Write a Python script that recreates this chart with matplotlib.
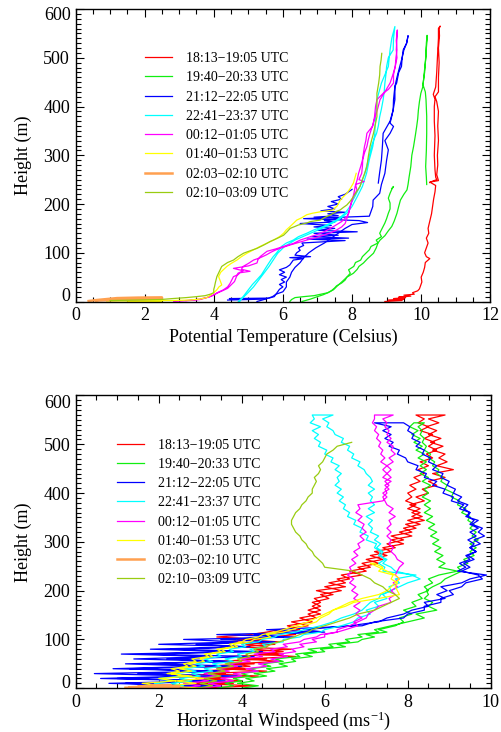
import matplotlib
matplotlib.use('Agg')
import matplotlib.pyplot as plt
from matplotlib.ticker import MultipleLocator

plt.rcParams['font.family'] = ['Liberation Serif', 'DejaVu Serif']
plt.rcParams['mathtext.fontset'] = 'custom'
plt.rcParams['mathtext.rm'] = 'Liberation Serif'
plt.rcParams['mathtext.it'] = 'Liberation Serif:italic'

LABELS = ['18:13\u221219:05 UTC', '19:40\u221220:33 UTC', '21:12\u221222:05 UTC',
          '22:41\u221223:37 UTC', '00:12\u221201:05 UTC', '01:40\u221201:53 UTC',
          '02:03\u221202:10 UTC', '02:10\u221203:09 UTC']
COLORS = ['#ff0000', '#11ee11', '#0000ff', '#00ffff', '#ff00ff', '#ffff00', '#ffa050', '#99cc11']

# ---------------- Top panel: potential temperature (Celsius) vs height (m)
T_RED_H = [0,2,3,5,6,8,9,11,13,15, 18,22,26,32,40,50,60,70,80,88, 92,100,110,120,130,140,150,165,180,195,
           210,225,238,245,248,260,280,300,330,360, 390,410,420,430,460,490,520,545,560,565,
           560,540,500,470,440,425,415,400,370,340, 300,270,255,250,246,244]
T_RED_X = [8.95,9.45,9.05,9.5,9.2,9.55,9.35,9.7,9.5,9.8, 9.75,9.9,9.95,9.98,10.02,10.0,10.06,10.1,10.12,10.25,
           10.15,10.1,10.15,10.2,10.15,10.22,10.2,10.25,10.3,10.33, 10.36,10.4,10.42,10.25,10.5,10.45,10.48,10.47,10.5,10.48,
           10.5,10.45,10.4,10.5,10.5,10.52,10.5,10.53,10.52,10.55,
           10.5,10.5,10.47,10.45,10.42,10.35,10.4,10.38,10.38,10.4, 10.38,10.4,10.42,10.45,10.3,10.25]

T_GRN1_H = [0,4,8,10,12,15,18,22,28,32, 38,44,50,58,65,72,80,85,92,99,
            106,113,120,126,133,140,147,154,161,170, 181,190,202,212,222,230,236,232]
T_GRN1_X = [6.2,6.25,6.35,6.6,6.9,7.1,7.3,7.4,7.5,7.55, 7.7,7.8,7.85,7.95,7.9,8.05,8.1,8.25,8.3,8.4,
            8.5,8.55,8.75,8.7,8.85,8.8,8.85,8.9,8.95,9.0, 9.05,9.1,9.1,9.05,9.1,9.15,9.2,9.15]
T_GRN2_H = [0,5,10,14,18,24,31,40,50,58, 66,72,79,88,99,110,120,126,135,145,
            154,165,181,195,208,220,229,240,255,277, 300,318,340,359,375,393,410,427,441,455,
            470,490,502,520,543,546, 530,500,470,445,430,414,380,345,310,277,255,240]
T_GRN2_X = [6.55,6.8,7.0,7.17,7.3,7.46,7.56,7.7,7.85,8.04, 8.15,8.2,8.33,8.45,8.62,8.7,8.75,8.81,8.95,9.05,
            9.15,9.22,9.3,9.35,9.4,9.5,9.59,9.62,9.65,9.7, 9.73,9.78,9.83,9.87,9.9,9.92,9.95,9.99,10.05,10.07,
            10.09,10.12,10.14,10.15,10.18,10.17, 10.15,10.13,10.1,10.05,10.12,10.14,10.16,10.16,10.15,10.13,10.15,10.16]

T_BLU1_H = [3,5,6,7,8,10,15,20,25,30, 35,40,45,50,55,60,65,70,75,80,
            85,88,90,92,95,100,105,110,115,120, 125,128,130,133,136,140,143,146,150,153,
            156,160,163,166,170,173,176,180,183,186, 190,195,200,205,210,215,220,225,230]
T_BLU1_X = [4.4,5.5,4.45,5.6,5.65,5.75,5.8,5.85,5.9,6.0, 5.9,6.05,5.95,6.1,5.9,6.05,5.9,6.1,6.2,6.25,
            6.3,6.6,6.2,6.8,6.35,6.4,6.5,6.45,6.6,6.55, 7.8,6.7,7.9,6.8,7.6,6.9,8.15,7.0,7.5,6.9,
            7.4,6.5,7.5,7.2,7.7,6.9,7.6,7.3,7.8,7.1, 7.5,7.3,7.6,7.4,7.7,7.6,7.8,7.9,8.0]
T_BLU2_H = [0,5,10,15,20,30,40,50,60,70, 80,90,100,110,120,130,140,150,158,162,
            166,170,175,185,195,208,222,240,263,290, 311,330,345,359,366,380,393,414,441,448,
            470,482,500,516,530,545,
            530,516,500,482,460,441,414,393,370,345,320,290,265,243]
T_BLU2_X = [5.25,5.5,5.7,5.8,6.0,6.1,6.1,6.2,6.25,6.35, 6.5,6.6,6.75,6.95,7.2,7.4,7.6,7.8,8.0,8.45,
            8.2,6.6,8.5,8.55,8.6,8.61,8.8,8.85,8.95,9.0, 9.05,8.95,9.1,9.2,9.1,9.15,9.19,9.24,9.24,9.29,
            9.35,9.43,9.45,9.5,9.58,9.62,
            9.58,9.48,9.45,9.38,9.3,9.24,9.2,9.19,9.1,8.9,8.88,8.85,8.8,8.76]

T_CYN_H = [0,10,24,35,44,55,72,85,92,100, 113,120,126,133,140,147,154,160,167,174,
           181,188,195,205,215,225,236,250,263,277, 291,305,318,330,345,360,379,395,414,430,
           448,465,482,500,516,540,564,
           540,516,482,448,414,379,345,318,291,263, 236,215,195,181,167,154,140,126,113,99,
           85,72,58,44,30,15,5,0]
T_CYN_X = [4.71,4.85,5.0,5.12,5.24,5.38,5.53,5.65,5.72,5.82, 5.96,6.1,6.3,6.45,6.69,6.9,7.17,7.35,7.55,7.68,
           7.79,7.87,7.94,8.0,8.08,8.15,8.23,8.3,8.37,8.42, 8.47,8.52,8.56,8.62,8.71,8.76,8.8,8.85,8.9,8.93,
           8.95,8.98,9.0,9.05,9.19,9.2,9.24,
           9.15,9.1,9.05,8.85,8.72,8.68,8.66,8.6,8.5,8.42, 8.3,8.15,8.0,7.85,7.6,7.25,6.8,6.35,6.05,5.85,
           5.72,5.6,5.45,5.3,5.15,4.95,4.8,4.75]

T_MAG_H = [0,2,4,8,13,18,24,30,37,44, 51,55,59,62,66,72,78,85,90,96,
           101,106,111,116,121,126,131,136,141,147, 153,160,170,181,195,208,220,229,240,246,
           250,263,277,291,305,318,332,345,362,379, 395,414,430,448,465,482,500,516,535,557,
           540,516,500,482,465,448,435,427,414,400, 379,360,345,330,318,304,290,277,263,250,
           236,220,208,195,181,174,164,154,147,140, 133,126,119,113,108,103,98,92,86,79,
           73,68,63,58,50,41,34,27,22,17, 10,5,2]
T_MAG_X = [2.84,3.3,3.6,3.8,3.99,4.1,4.28,4.4,4.47,4.52, 4.57,4.7,4.76,5.05,4.8,4.85,5.0,5.15,5.35,5.53,
           5.65,5.8,6.0,6.21,6.45,6.69,6.95,7.17,7.38,7.56, 7.7,7.8,7.85,7.9,7.95,8.0,8.08,8.14,8.1,8.35,
           8.2,8.28,8.3,8.31,8.36,8.43,8.47,8.52,8.6,8.67, 8.74,8.81,8.95,9.1,9.18,9.25,9.27,9.3,9.28,9.31,
           9.3,9.28,9.3,9.25,9.2,9.2,9.05,8.9,8.72,8.68, 8.65,8.6,8.43,8.4,8.36,8.33,8.3,8.25,8.19,8.15,
           8.09,8.05,8.0,7.95,7.9,7.85,7.7,7.47,7.3,7.1, 6.8,6.5,6.3,6.02,5.8,5.54,5.45,5.34,5.28,5.25,
           5.0,4.57,4.85,4.7,4.65,4.6,4.5,4.4,4.25,4.09, 3.9,3.6,3.2]

T_YEL_H = [1,1,2,2,3,5,8,13,18,24, 30,34,40,51,60,72,78,85,92,99,
           106,113,120,126,133,140,147,154,160,167, 172,178,181,184,186,188,192,195,200,208,
           215,222,232,243,253,263]
T_YEL_X = [0.9,2.5,1.5,2.8,3.3,3.6,3.8,3.9,4.0,4.09, 4.15,4.23,4.2,4.14,4.2,4.38,4.5,4.67,4.8,4.96,
           5.15,5.34,5.55,5.73,5.9,6.02,6.1,6.21,6.3,6.4, 6.55,6.69,6.85,7.08,7.3,7.46,7.5,7.56,7.6,7.66,
           7.75,7.85,7.95,8.04,8.08,8.12]

T_ORG_H = [1,3,5,7,8,8.5,8,6,5,4,3,2]
T_ORG_X = [0.38,0.6,0.9,1.2,1.8,2.5,2.5,2.5,2.0,1.5,1.0,0.6]

T_OLV_H = [2,3,4,6,8,10,12,15,18,25, 30,40,51,60,72,80,85,92,99,104,
           109,116,123,130,136,143,150,154,157,161, 164,167,172,177,181,185,188,193,198,206,
           215,225,236,246,256,266,277,297,318,332, 345,362,379,400,427,448,465,482,495,509]
T_OLV_X = [1.0,1.8,2.45,2.8,3.2,3.5,3.75,3.9,4.0,4.0, 4.02,4.05,4.09,4.15,4.23,4.4,4.57,4.7,4.86,5.05,
           5.25,5.45,5.63,5.85,6.02,6.12,6.21,6.35,6.45,6.69, 6.8,7.08,7.2,7.35,7.46,7.55,7.66,7.75,7.85,7.95,
           8.04,8.13,8.23,8.28,8.33,8.38,8.43,8.47,8.52,8.57, 8.62,8.67,8.72,8.72,8.72,8.77,8.8,8.81,8.84,8.86]

# ---------------- Bottom panel: horizontal wind speed (m/s) vs height (m)
# common sampling heights; each profile lists its values bottom-to-top
W_H = [0,5,10,15,20,25,30,35,40,45,50,55,60,65,70,75,80,85,90,95,100,105,110,115,120,
       128,136,144,152,160,168,176,184,192,200,208,216,224,232,240,248,256,264,272,280,
       288,296,304,312,320,328,336,344,352,360,368,376,384,392,400,408,416,424,432,440,
       448,456,464,472,480,488,496,504,512,520,528,536,544,552,560]

W_RED_UP = [3.4,2.2,3.8,2.6,3.5, 2.4,3.6,2.9,4.1,3.0, 4.3,3.4,4.6,3.7,5.0, 4.2,5.2,3.9,4.8,3.6,
            4.5,3.4,4.2,4.6,4.9, 5.6,5.2,5.8,5.6,5.9, 5.7,5.9,5.75,6.2,5.8, 6.5,6.1,6.6,6.4,7.0,
            6.8,7.3,7.0,7.5,7.2, 7.7,7.5,7.9,7.6,8.1, 7.9,8.3,8.0,8.35,8.1, 8.3,8.05,8.4,8.2,8.5,
            8.35,8.7,8.5,8.9,8.6, 9.1,8.7,8.95,8.75,8.9, 8.6,8.85,8.55,8.8,8.5, 8.7,8.45,8.75,8.5,8.9]
W_RED_DN = [3.0,4.3,2.8,4.0,3.2, 4.4,3.1,4.6,3.5,4.2, 3.8,4.9,4.1,5.3,4.4, 5.0,4.3,4.6,4.1,4.9,
            3.9,4.7,5.3,4.8,5.4, 5.1,5.7,5.4,5.9,5.6, 5.9,5.7,6.1,5.9,6.4, 6.0,6.5,6.3,6.9,6.6,
            7.1,6.9,7.4,7.1,7.6, 7.4,7.9,7.6,8.1,7.8, 8.2,7.95,8.4,8.1,8.3, 8.0,8.2,7.95,8.1,8.0,
            8.2,8.05,8.3,8.15,8.4, 8.25,8.5,8.3,8.6,8.45, 8.7,8.5,8.65,8.4,8.6, 8.3,8.5,8.25,8.4,8.2]

W_GRN_UP = [4.0,4.4,3.9,4.3,4.1, 4.6,4.3,4.8,4.6,5.1, 4.9,5.3,5.2,5.7,5.5, 6.0,5.9,6.5,6.3,6.8,
            6.9,7.2,7.0,7.5,7.3, 7.7,7.9,7.8,8.1,7.9, 8.2,8.1,8.35,8.25,8.5, 8.4,8.6,8.5,8.75,9.2,
            8.75,8.9,8.7,8.85,8.65, 8.8,8.6,8.75,8.55,8.7, 8.5,8.65,8.45,8.6,8.4, 8.55,8.4,8.55,8.35,8.5,
            8.4,8.55,8.35,8.5,8.3, 8.45,8.3,8.45,8.25,8.4, 8.2,8.35,8.15,8.3,8.1, 8.25,8.05,8.15]
W_GRN_DN = [3.4,3.8,3.6,4.0,3.8, 4.2,4.0,4.4,4.2,4.7, 4.5,5.0,4.8,5.4,5.3, 5.8,5.6,6.2,6.1,6.6,
            6.5,6.9,6.8,7.3,7.2, 7.6,8.0,8.4,8.2,8.7, 8.5,8.6,8.4,8.5,8.45, 8.6,8.8,8.9,9.1,9.3,
            9.2,9.45,9.35,9.6,9.5, 9.65,9.5,9.7,9.55,9.65, 9.5,9.6,9.45,9.5,9.3, 9.4,9.2,9.25,9.05,9.1,
            8.9,8.95,8.8,8.85,8.7, 8.75,8.6,8.65,8.5,8.55, 8.4,8.45,8.35,8.4,8.3, 8.35,8.25,8.4]

W_BLU_UP = [1.5,3.0,0.8,3.2,0.6, 2.8,0.45,3.4,0.9,3.0, 1.2,3.6,1.4,3.3,1.1, 3.8,1.8,4.2,2.0,3.9,
            2.6,5.3,3.4,5.8,4.6, 6.9,7.2,7.9,8.0,8.4, 8.4,8.8,8.8,9.1,9.0, 9.3,9.4,9.8,9.7,9.3,
            9.5,9.35,9.6,9.45,9.65, 9.5,9.75,9.6,9.85,9.7, 9.8,9.55,9.7,9.4,9.5, 9.25,9.35,9.05,9.1,8.85,
            8.9,8.6,8.7,8.4,8.45, 8.2,8.25,8.0,7.95,7.75, 7.8,7.55,7.65,7.45,7.6, 7.4,7.6,7.2]
W_BLU_DN = [2.0,3.5,1.2,3.6,1.0, 3.9,1.5,3.5,1.3,4.0, 1.8,3.7,2.2,4.3,1.6, 4.5,2.3,4.1,2.9,4.8,
            3.5,5.0,4.3,6.0,5.5, 6.6,7.3,7.5,7.9,8.1, 8.5,8.4,8.9,8.7,8.95, 8.8,9.3,9.5,9.9,9.2,
            9.4,9.25,9.5,9.4,9.65, 9.5,9.6,9.45,9.65,9.5, 9.7,9.5,9.6,9.45,9.5, 9.35,9.45,9.2,9.3,9.1,
            9.15,8.95,9.0,8.8,8.85, 8.6,8.7,8.5,8.55,8.35, 8.4,8.2,8.3,8.1,8.15, 8.0,8.05,7.9]

W_CYN_UP = [1.8,2.4,1.9,2.3,2.0, 2.6,2.4,2.9,2.6,3.1, 2.9,3.3,3.1,3.5,3.4, 3.8,3.7,4.1,4.0,4.4,
            4.5,4.8,4.9,5.3,5.5, 5.9,6.2,6.4,6.7,6.9, 7.0,7.1,7.3,7.35,7.6, 7.8,8.0,8.3,8.1,7.7,
            7.6,7.4,7.5,7.3,7.35, 7.2,7.25,7.0,7.05,6.85, 6.9,6.7,6.75,6.55,6.6, 6.45,6.5,6.35,6.45,6.3,
            6.4,6.25,6.35,6.3,6.4, 6.25,6.35,6.15,6.2,6.0, 6.05,5.85,5.9,5.75,5.85, 5.7,5.9,5.65,5.75,5.7]
W_CYN_DN = [2.2,2.6,2.3,2.8,2.5, 3.0,2.8,3.3,3.1,3.5, 3.3,3.8,3.6,4.0,3.9, 4.3,4.2,4.6,4.5,5.0,
            5.0,5.4,5.5,5.9,6.0, 6.4,6.7,6.8,7.1,7.0, 7.3,7.2,7.5,7.4,7.6, 7.55,7.8,7.7,8.2,7.4,
            7.45,7.3,7.45,7.35,7.4, 7.25,7.35,7.2,7.3,7.1, 7.15,7.05,7.15,7.0,7.2, 7.05,7.2,7.1,7.15,7.05,
            7.2,7.05,7.15,7.1,7.0, 6.95,6.8,6.85,6.65,6.7, 6.55,6.6,6.4,6.45,6.25, 6.2,6.05,6.1,5.95,6.2]

W_MAG_UP = [2.5,3.0,2.6,3.2,2.9, 3.4,3.1,3.7,3.4,3.9, 3.7,4.2,4.0,4.5,4.3, 4.8,4.7,5.1,5.0,5.4,
            5.5,5.8,5.9,6.3,6.5, 6.8,6.7,6.9,6.75,6.85, 6.7,6.85,6.7,6.8,6.65, 6.75,6.6,6.7,6.55,6.65,
            6.6,6.75,6.65,6.8,6.7, 6.85,6.8,6.95,6.85,7.0, 6.9,6.95,6.8,6.9,6.75, 6.85,6.8,7.4,7.5,7.4,
            7.55,7.45,7.6,7.4,7.5, 7.4,7.5,7.35,7.45,7.35, 7.4,7.3,7.35,7.25,7.3, 7.2,7.25,7.15,7.2,7.2]
W_MAG_DN = [3.0,3.5,3.2,3.8,3.5, 4.0,3.8,4.4,4.1,4.6, 4.4,4.9,4.7,5.1,4.9, 5.3,5.2,5.5,5.4,5.8,
            5.7,6.0,6.0,6.3,6.3, 6.6,6.8,7.0,7.05,7.2, 7.3,7.6,7.55,7.7,7.6, 7.75,7.65,7.8,7.7,7.75,
            7.8,7.9,7.75,7.7,7.6, 7.65,7.55,7.6,7.5,7.6, 7.5,7.6,7.55,7.7,7.55, 7.65,7.5,7.45,7.4,7.5,
            7.45,7.55,7.45,7.6,7.5, 7.6,7.5,7.65,7.55,7.7, 7.6,7.65,7.5,7.6,7.5, 7.55,7.45,7.5,7.4,7.65]

W_YEL_UP = [3.0,2.2,2.9,2.4,3.1, 2.6,2.3,2.8,2.5,2.9, 2.7,3.1,3.0,3.3,3.2, 3.6,3.5,3.9,3.8,4.2,
            4.3,4.7,4.6,5.0,5.2, 5.5,5.8,5.9,6.1,6.2, 6.5,6.7,7.3,7.8,7.75, 7.7,7.75,7.6,7.65,7.3,
            7.4,7.2]
W_YEL_DN = [1.2,2.0,1.6,2.4,2.0, 2.8,2.2,2.5,2.3,2.7, 2.6,2.9,2.8,3.2,3.1, 3.5,3.4,3.8,3.7,4.0,
            4.1,4.4,4.5,4.8,5.0, 5.3,5.6,5.8,6.0,6.2, 6.4,6.6,6.9,7.3,7.5, 7.6,7.7,7.8,7.7,7.5,
            7.3,7.1]

W_ORG_H = [1,2,3,4,5,6,5,3,2]
W_ORG_X = [1.2,2.2,1.5,2.5,1.8,2.3,2.0,1.6,1.3]

W_OLV_UP = [2.9,3.3,3.0,3.4,3.1, 3.5,3.2,3.6,3.4,3.8, 3.6,4.0,3.9,4.2,4.1, 4.4,4.3,4.6,4.7,4.9,
            5.1,5.25,5.4,5.6,5.7, 6.0,6.3,6.6,6.8,7.2, 7.4,7.6,7.8,7.7,7.5, 7.4,7.2,7.1,6.9,6.7,
            6.0,5.95,5.85,5.75,5.7, 5.6,5.55,5.45,5.4,5.3, 5.25,5.2,5.2,5.25,5.3, 5.4,5.45,5.55,5.6,5.7,
            5.7,5.75,5.8,5.75,5.85, 5.9,5.85,5.95,6.0,6.05, 6.2,6.3,6.65]

LW = 0.9

fig = plt.figure(figsize=(5.02, 7.32), dpi=100)
ax1 = fig.add_axes([0.1504, 0.5881, 0.8263, 0.3996])
ax2 = fig.add_axes([0.1508, 0.0598, 0.8267, 0.3999])


def style(ax, xmax, xlabel, top_off, bot_off, xlabelpad):
    ax.set_xlim(0, xmax)
    ax.set_ylim(0, 600)
    ax.xaxis.set_major_locator(MultipleLocator(2))
    ax.xaxis.set_minor_locator(MultipleLocator(0.5))
    ax.yaxis.set_major_locator(MultipleLocator(100))
    ax.yaxis.set_minor_locator(MultipleLocator(10))
    ax.tick_params(which='both', direction='in', top=True, right=True, labelsize=13, width=0.8)
    ax.tick_params(which='major', length=6, pad=4)
    ax.tick_params(which='minor', length=3.5)
    ax.set_yticks([0, 100, 200, 300, 400, 500, 600])
    ax.set_yticklabels(['', '100', '200', '300', '400', '500', ''])
    ax.annotate('0', xy=(0, 0), xycoords=('axes fraction', 'data'), xytext=(-5, bot_off),
                textcoords='offset pixels', ha='right', va='center', fontsize=13)
    ax.annotate('600', xy=(0, 600), xycoords=('axes fraction', 'data'), xytext=(-5, top_off),
                textcoords='offset pixels', ha='right', va='center', fontsize=13)
    ax.set_xlabel(xlabel, fontsize=13, labelpad=xlabelpad)
    ax.set_ylabel('Height (m)', fontsize=13, labelpad=8)
    for s in ax.spines.values():
        s.set_linewidth(1.0)


# ---- top panel
h = {}
h[0], = ax1.plot(T_RED_X, T_RED_H, color=COLORS[0], lw=LW)
h[1], = ax1.plot(T_GRN1_X, T_GRN1_H, color=COLORS[1], lw=LW)
ax1.plot(T_GRN2_X, T_GRN2_H, color=COLORS[1], lw=LW)
h[2], = ax1.plot(T_BLU1_X, T_BLU1_H, color=COLORS[2], lw=LW)
ax1.plot(T_BLU2_X, T_BLU2_H, color=COLORS[2], lw=LW)
h[3], = ax1.plot(T_CYN_X, T_CYN_H, color=COLORS[3], lw=LW)
h[4], = ax1.plot(T_MAG_X, T_MAG_H, color=COLORS[4], lw=LW)
h[5], = ax1.plot(T_YEL_X, T_YEL_H, color=COLORS[5], lw=LW)
h[6], = ax1.plot(T_ORG_X, T_ORG_H, color=COLORS[6], lw=1.8)
h[7], = ax1.plot(T_OLV_X, T_OLV_H, color=COLORS[7], lw=LW)
style(ax1, 12, 'Potential Temperature (Celsius)', -6, 5, 3)
ax1.legend([h[i] for i in range(8)], LABELS, loc='upper left', bbox_to_anchor=(0.168, 0.853),
           frameon=False, fontsize=10, handlelength=1.95, handletextpad=1.0,
           labelspacing=0.45, borderpad=0, borderaxespad=0)

# ---- bottom panel
def prof(ax, up, dn, color, lw=LW):
    n_up = len(up)
    n_dn = len(dn)
    xs = list(up) + list(dn)[::-1]
    hs = list(W_H[:n_up]) + list(W_H[:n_dn])[::-1]
    line, = ax.plot(xs, hs, color=color, lw=lw)
    return line

g = {}
g[0] = prof(ax2, W_RED_UP, W_RED_DN, COLORS[0])
g[1] = prof(ax2, W_GRN_UP, W_GRN_DN, COLORS[1])
g[2] = prof(ax2, W_BLU_UP, W_BLU_DN, COLORS[2])
g[3] = prof(ax2, W_CYN_UP, W_CYN_DN, COLORS[3])
g[4] = prof(ax2, W_MAG_UP, W_MAG_DN, COLORS[4])
g[5] = prof(ax2, W_YEL_UP, W_YEL_DN, COLORS[5])
g[6], = ax2.plot(W_ORG_X, W_ORG_H, color=COLORS[6], lw=1.8)
g[7] = prof(ax2, W_OLV_UP, [], COLORS[7])
style(ax2, 10, r'Horizontal Windspeed (ms$^{-1}$)', -8, 5, -1)
ax2.legend([g[i] for i in range(8)], LABELS, loc='upper left', bbox_to_anchor=(0.1, 0.853),
           frameon=False, fontsize=10, handlelength=1.95, handletextpad=1.0,
           labelspacing=0.45, borderpad=0, borderaxespad=0)

fig.savefig('out.png', dpi=100)
